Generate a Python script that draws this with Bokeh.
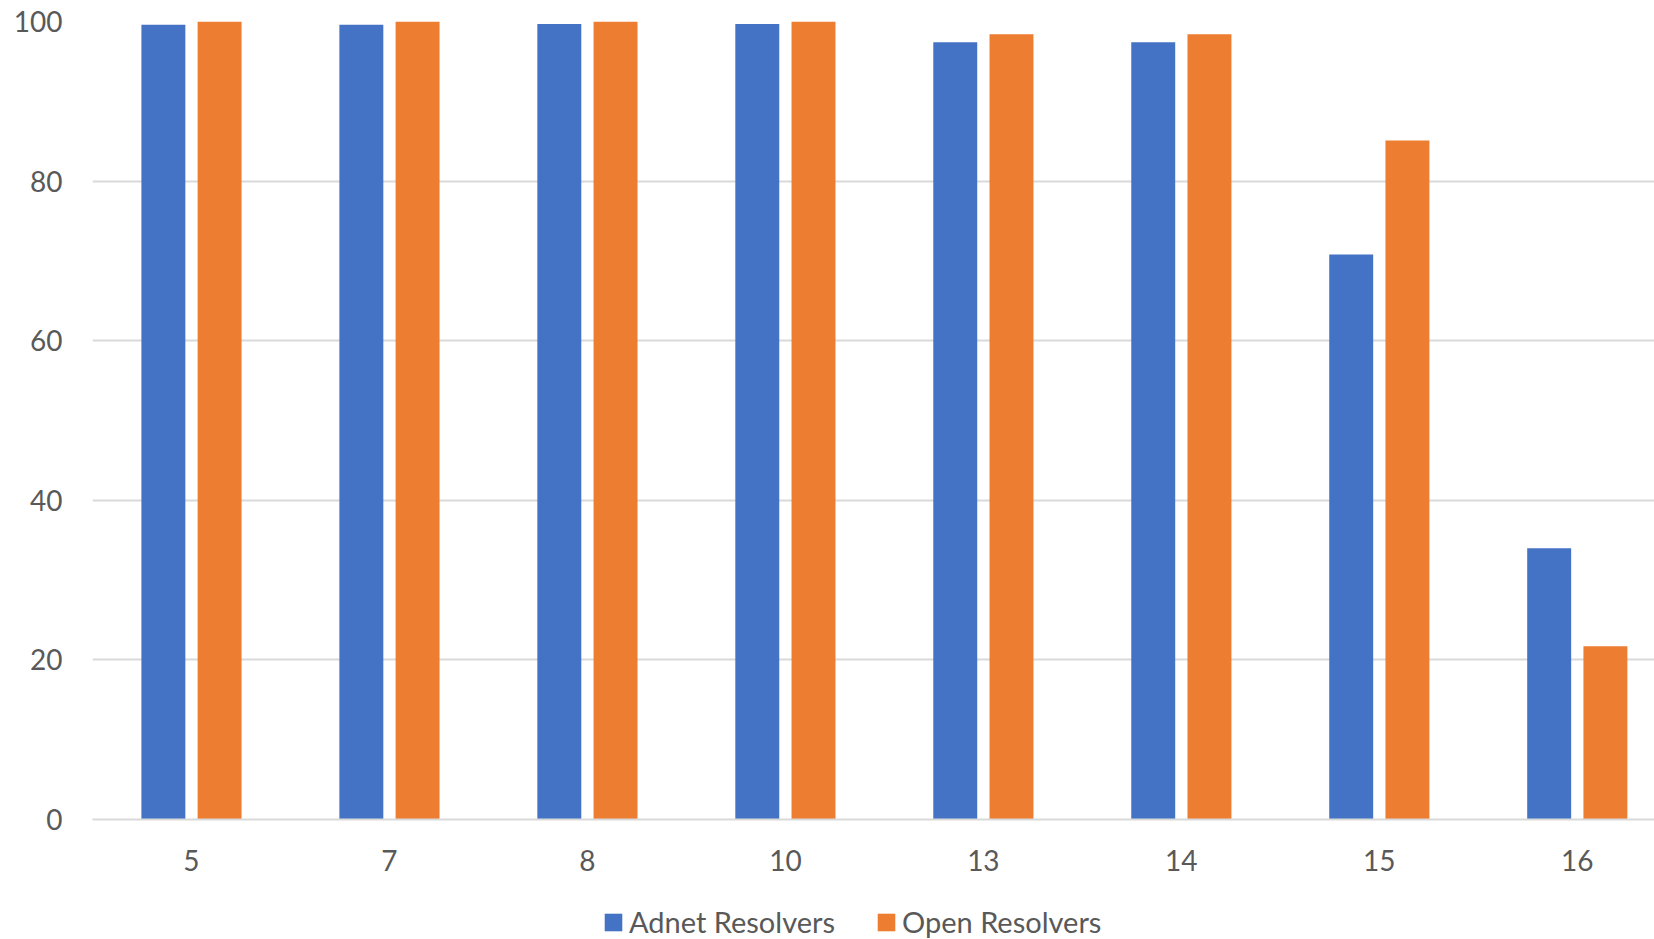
from bokeh.plotting import figure
from bokeh.layouts import column
from bokeh.models import ColumnDataSource, Range1d, FixedTicker, Legend, LegendItem
from bokeh.transform import dodge
from bokeh.embed import file_html
from bokeh.resources import INLINE

# Query success rate (%) per test case
categories = ["5", "7", "8", "10", "13", "14", "15", "16"]
adnet_resolvers = [99.6, 99.6, 99.7, 99.7, 97.4, 97.4, 70.8, 34.0]
open_resolvers = [100.0, 100.0, 100.0, 100.0, 98.4, 98.4, 85.1, 21.7]
y_ticks = [0, 20, 40, 60, 80, 100]
series_names = ["Adnet Resolvers", "Open Resolvers"]

BLUE = "#4472C4"
ORANGE = "#ED7D31"
TEXT = "#595959"
GRID = "#D9D9D9"
FONT = "Lato"

source = ColumnDataSource(dict(
    x=list(range(len(categories))),
    adnet=adnet_resolvers,
    open=open_resolvers,
))

p = figure(
    width=1654, height=880,
    x_range=Range1d(-0.5, 7.39),
    y_range=Range1d(0, 100),
    output_backend="svg", toolbar_location=None,
    min_border_left=92, min_border_right=0,
    min_border_top=21, min_border_bottom=61,
    outline_line_color=None,
)

bar_w = 0.222
p.vbar(x=dodge("x", -0.142, range=p.x_range), top="adnet", width=bar_w,
       source=source, fill_color=BLUE, line_color=None)
p.vbar(x=dodge("x", 0.142, range=p.x_range), top="open", width=bar_w,
       source=source, fill_color=ORANGE, line_color=None)

# Axes
p.xaxis.ticker = FixedTicker(ticks=list(range(len(categories))))
p.xaxis.major_label_overrides = {i: c for i, c in enumerate(categories)}
p.xaxis.axis_line_color = GRID
p.xaxis.axis_line_width = 2
p.xaxis.major_tick_line_color = None
p.xaxis.minor_tick_line_color = None
p.xaxis.major_label_standoff = 24
p.xaxis.major_label_text_font = FONT
p.xaxis.major_label_text_font_size = "28px"
p.xaxis.major_label_text_color = TEXT

p.yaxis.ticker = FixedTicker(ticks=y_ticks)
p.yaxis.axis_line_color = None
p.yaxis.major_tick_line_color = None
p.yaxis.minor_tick_line_color = None
p.yaxis.major_label_standoff = 24
p.yaxis.major_label_text_font = FONT
p.yaxis.major_label_text_font_size = "28px"
p.yaxis.major_label_text_color = TEXT

p.xgrid.grid_line_color = None
p.ygrid.grid_line_color = GRID
p.ygrid.grid_line_width = 2

# Legend strip underneath the chart (its frame lines up with the chart frame)
lg = figure(
    width=1654, height=59,
    x_range=Range1d(0, 1), y_range=Range1d(0, 1),
    output_backend="svg", toolbar_location=None,
    x_axis_location=None, y_axis_location=None,
    min_border_left=92, min_border_right=0, min_border_top=0, min_border_bottom=0,
    outline_line_color=None,
)
lg.grid.visible = False
# key renderers hold no drawable row; they only supply the legend swatches
keys = ColumnDataSource(dict(x=[float("nan")], top=[float("nan")]))
key_adnet = lg.vbar(x="x", top="top", width=0.1, source=keys, fill_color=BLUE, line_color=None)
key_open = lg.vbar(x="x", top="top", width=0.1, source=keys, fill_color=ORANGE, line_color=None)

legend = Legend(
    items=[LegendItem(label=series_names[0], renderers=[key_adnet]),
           LegendItem(label=series_names[1], renderers=[key_open])],
    orientation="horizontal",
    location=(510, 0),
    glyph_width=22, glyph_height=22,
    label_standoff=5, spacing=40,
    padding=0, margin=0,
    border_line_color=None, background_fill_alpha=0,
    label_text_font=FONT, label_text_font_size="29px",
    label_text_color=TEXT, label_height=18,
)
lg.add_layout(legend, "center")

layout = column(p, lg, spacing=0)
open("out.html", "w").write(file_html(layout, INLINE))
